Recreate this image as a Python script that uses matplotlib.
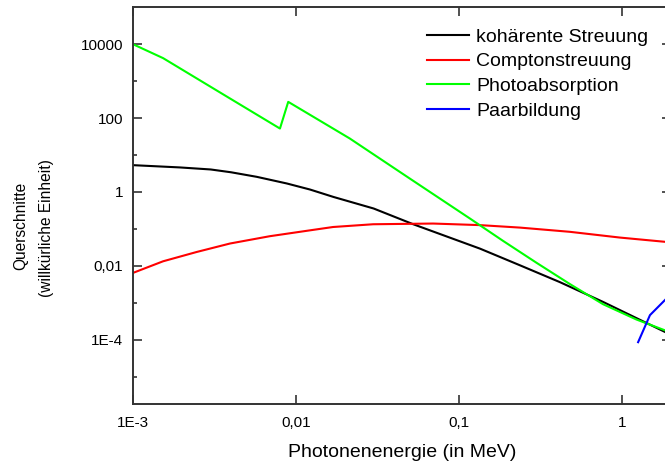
import matplotlib
matplotlib.use("Agg")

import matplotlib.pyplot as plt
from matplotlib.ticker import FixedLocator, NullLocator, NullFormatter

plt.rcParams['font.family'] = ['Liberation Sans', 'DejaVu Sans']

# =======================
# Data
# =======================

kohaerent_E = [0.001, 0.00194, 0.003, 0.004, 0.00575, 0.0088, 0.0122, 0.017, 0.03,
               0.0525, 0.135, 0.237, 0.417, 0.767, 2.0]
kohaerent_W = [5.3, 4.6, 4.05, 3.4, 2.56, 1.69, 1.16, 0.73, 0.355,
               0.133, 0.029, 0.0103, 0.0036, 0.00105, 1.35e-4]

compton_E = [0.001, 0.00153, 0.00246, 0.00394, 0.0069, 0.0122, 0.0169, 0.0298,
             0.0695, 0.1346, 0.237, 0.48, 0.973, 2.0]
compton_W = [0.0064, 0.0132, 0.0236, 0.040, 0.063, 0.091, 0.112, 0.133,
             0.139, 0.126, 0.108, 0.083, 0.058, 0.043]

photo_E = [0.001, 0.00153, 0.00394, 0.00798, 0.00897, 0.0214, 0.05, 0.117,
           0.187, 0.3, 0.48, 0.767, 1.23, 2.0]
photo_W = [1e4, 4200, 339, 52, 275, 28, 2.3, 0.19,
           0.047, 0.012, 3.2e-3, 9.1e-4, 3.5e-4, 1.55e-4]

paar_E = [1.26, 1.49, 2.0]
paar_W = [8.5e-5, 4.6e-4, 1.7e-3]

series_labels = ["kohärente Streuung", "Comptonstreuung", "Photoabsorption", "Paarbildung"]
series_colors = ["#000000", "#ff0000", "#00ff00", "#0000ff"]

x_ticks = [1e-3, 1e-2, 1e-1, 1]
x_ticklabels = ["1E-3", "0,01", "0,1", "1"]
y_ticks = [1e-4, 1e-2, 1, 1e2, 1e4]
y_ticklabels = ["1E-4", "0,01", "1", "100", "10000"]
y_minor = [1e-5, 1e-3, 1e-1, 1e1, 1e3]

# =======================
# Figure
# =======================

W, H = 665, 461
fig = plt.figure(figsize=(W / 100, H / 100), dpi=100)

# right spine sits just past the image edge, as in the reference crop
left, right, top, bottom = 133, 670.8, 7.3, 404
ax = fig.add_axes([left / W, 1 - bottom / H, (right - left) / W, (bottom - top) / H])

ax.set_xscale("log")
ax.set_yscale("log")
ax.set_xlim(1e-3, 2)
ax.set_ylim(1.8e-6, 1e5)

for E, Wv, lab, col in zip([kohaerent_E, compton_E, photo_E, paar_E],
                           [kohaerent_W, compton_W, photo_W, paar_W],
                           series_labels, series_colors):
    ax.plot(E, Wv, color=col, lw=1.5, label=lab)

ax.set_xticks(x_ticks)
ax.set_xticklabels(x_ticklabels)
ax.xaxis.set_minor_locator(NullLocator())
ax.set_yticks(y_ticks)
ax.set_yticklabels(y_ticklabels)
ax.yaxis.set_minor_locator(FixedLocator(y_minor))
ax.yaxis.set_minor_formatter(NullFormatter())

ax.tick_params(which="both", direction="in", top=True, right=True, width=1.2, color="#333333")
ax.tick_params(which="major", length=6.3, labelsize=11)
ax.tick_params(which="minor", length=3.2)
ax.tick_params(axis="x", pad=8.5)
ax.tick_params(axis="y", pad=7)

for sp in ax.spines.values():
    sp.set_linewidth(1.4)
    sp.set_color("#333333")

fig.text(402 / W, 1 - 452 / H, "Photonenenergie (in MeV)", ha="center", va="center", fontsize=14)
fig.text(21 / W, 1 - 226 / H, "Querschnitte", rotation=90, ha="center", va="center", fontsize=11.2)
fig.text(47 / W, 1 - 228 / H, "(willkürliche Einheit)", rotation=90, ha="center", va="center", fontsize=11.2)

ax.legend(loc="upper left", bbox_to_anchor=(426.7 / W, 1 - 28 / H), bbox_transform=fig.transFigure,
          frameon=False, fontsize=14, borderpad=0, borderaxespad=0,
          handlelength=2.2, handletextpad=0.36, labelspacing=0.37)

fig.savefig("out.png", dpi=100)
plt.close(fig)
